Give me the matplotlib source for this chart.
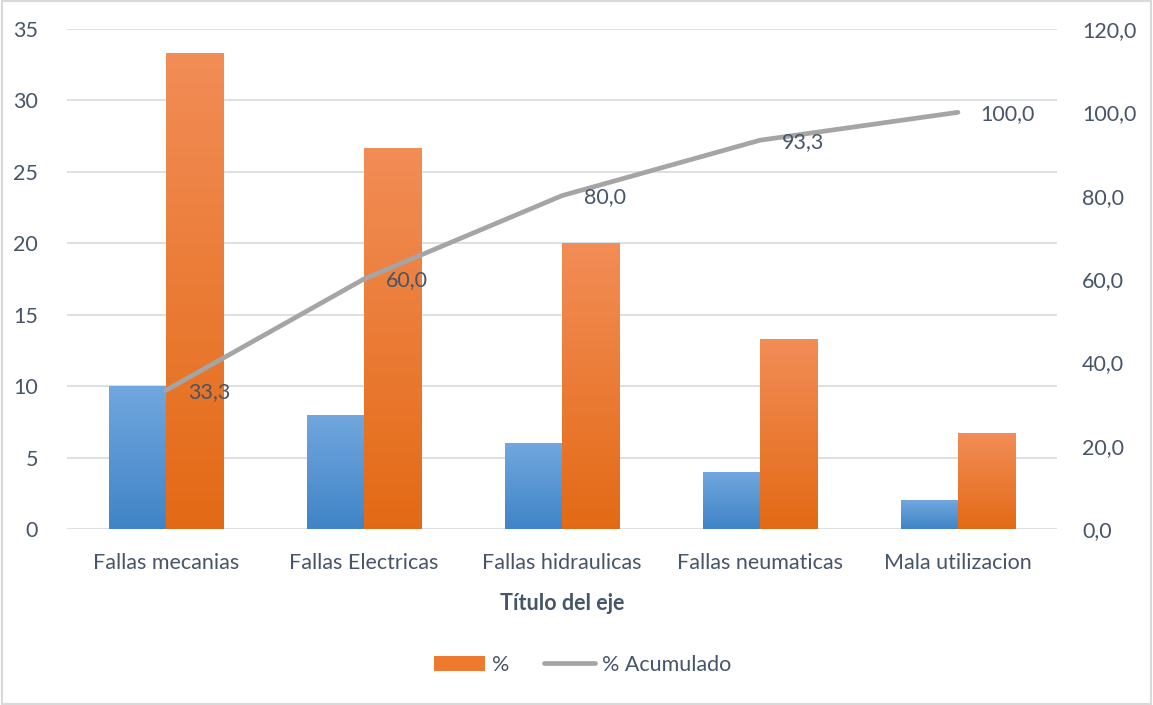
import numpy as np
import matplotlib
matplotlib.use("Agg")
import matplotlib.pyplot as plt
from matplotlib.patches import Rectangle
from matplotlib.lines import Line2D
from matplotlib.colors import LinearSegmentedColormap

categories = ["Fallas mecanias", "Fallas Electricas", "Fallas hidraulicas",
              "Fallas neumaticas", "Mala utilizacion"]
frecuencia = [10, 8, 6, 4, 2]
porcentaje = [33.3, 26.7, 20.0, 13.3, 6.7]
acumulado = [33.3, 60.0, 80.0, 93.3, 100.0]
acum_labels = ["33,3", "60,0", "80,0", "93,3", "100,0"]
left_ticks = [0, 5, 10, 15, 20, 25, 30, 35]
right_ticks = [0, 20, 40, 60, 80, 100, 120]

TEXT = "#475569"
GRID = "#D9DDE3"
FS = 15.5
plt.rcParams["font.family"] = ["Lato", "DejaVu Sans"]

fig = plt.figure(figsize=(11.53, 7.05), dpi=100)
fig.patches.append(Rectangle((0.002, 0.002), 0.996, 0.996, transform=fig.transFigure,
                             fill=False, edgecolor="#D9D9D9", linewidth=1.5))
ax = fig.add_axes([0.0581, 0.2496, 0.8586, 0.7093])
ax2 = ax.twinx()

x = np.arange(len(categories))
w = 0.288

blue_cm = LinearSegmentedColormap.from_list("b", ["#4084C7", "#71A7DE"])
orange_cm = LinearSegmentedColormap.from_list("o", ["#E36A15", "#F28D57"])


def gradient_bars(axis, xs, heights, cmap):
    bars = axis.bar(xs, heights, width=w, color="none", edgecolor="none", zorder=2)
    grad = np.linspace(0, 1, 256).reshape(-1, 1)
    for b in bars:
        x0, y0 = b.get_x(), b.get_y()
        im = axis.imshow(grad, cmap=cmap, origin="lower", aspect="auto",
                         extent=[x0, x0 + b.get_width(), y0, y0 + b.get_height()],
                         zorder=2)
        im.set_clip_path(b)
    return bars


gradient_bars(ax, x - w / 2, frecuencia, blue_cm)
gradient_bars(ax, x + w / 2, porcentaje, orange_cm)

ax.set_xlim(-0.5, len(categories) - 0.5)
ax.set_ylim(0, 35)
ax.set_yticks(left_ticks)
ax.set_yticklabels([str(t) for t in left_ticks])
ax.set_xticks(x)
ax.set_xticklabels(categories)
ax.grid(axis="y", color=GRID, linewidth=1.3, zorder=0)
ax.set_axisbelow(True)
for s in ax.spines.values():
    s.set_visible(False)
ax.tick_params(axis="y", length=0, pad=21, labelsize=FS, labelcolor=TEXT)
ax.tick_params(axis="x", length=0, pad=17, labelsize=FS, labelcolor=TEXT)
ax.set_xlabel("Título del eje", fontsize=FS, fontweight="bold", color=TEXT, labelpad=15)

ax2.plot(x, acumulado, color="#A5A5A5", linewidth=3.4, solid_capstyle="round", zorder=3)
for xi, yi, lab in zip(x, acumulado, acum_labels):
    ax2.annotate(lab, (xi, yi), xytext=(16, -1), textcoords="offset points",
                 ha="left", va="center", fontsize=FS, color=TEXT)
ax2.set_ylim(0, 120)
ax2.set_yticks(right_ticks)
ax2.set_yticklabels([f"{t},0" for t in right_ticks])
for s in ax2.spines.values():
    s.set_visible(False)
ax2.tick_params(axis="y", length=0, pad=18, labelsize=FS, labelcolor=TEXT)

handles = [Rectangle((0, 0), 1, 1, facecolor="#EE7A30", edgecolor="none"),
           Line2D([0], [0], color="#A5A5A5", linewidth=3.4, solid_capstyle="round")]
fig.legend(handles, ["%", "% Acumulado"], loc="center", bbox_to_anchor=(0.505, 0.057),
           ncol=2, frameon=False, fontsize=FS, labelcolor=TEXT,
           handlelength=2.4, handletextpad=0.3, columnspacing=1.6)

fig.savefig("out.png", dpi=100)
